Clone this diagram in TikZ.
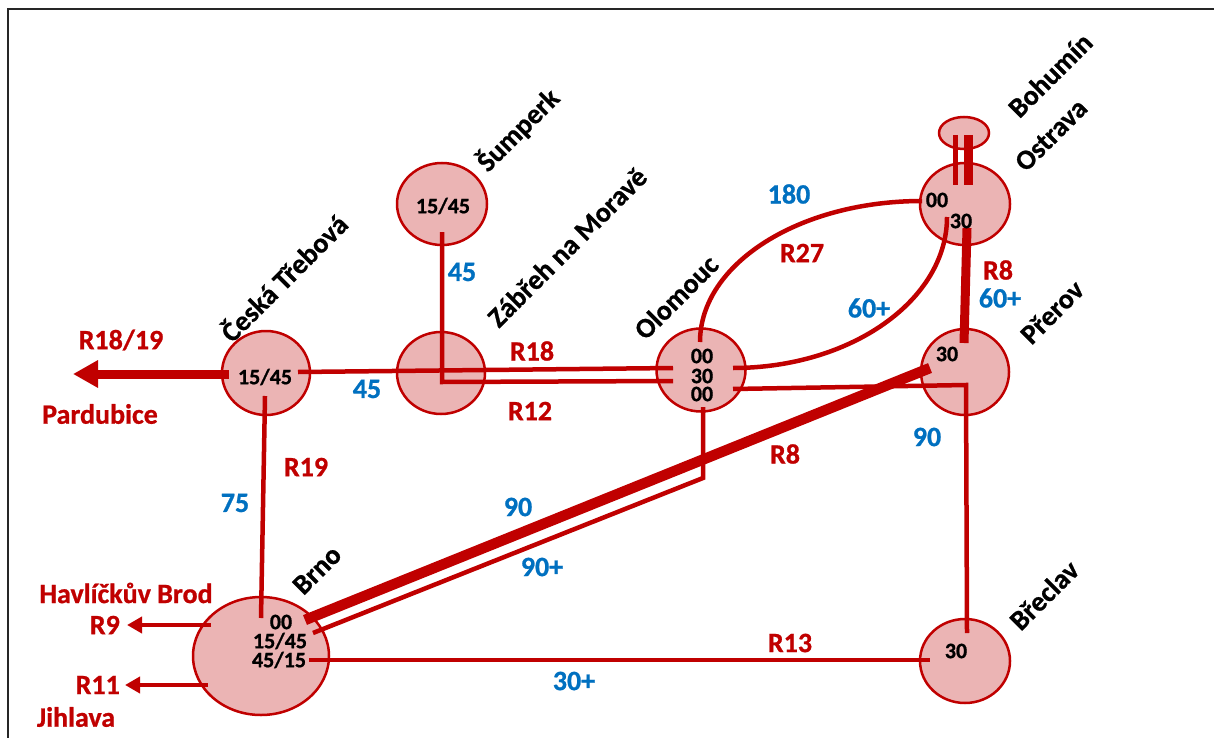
\documentclass[tikz,border=0pt]{standalone}
\usepackage{fontspec}
\setmainfont{Carlito}[BoldFeatures={FakeBold=0.8}]
\usetikzlibrary{shapes.geometric,arrows.meta,calc}
\definecolor{rd}{RGB}{192,0,0}
\definecolor{pk}{RGB}{235,180,180}
\definecolor{bl}{RGB}{0,112,192}
\begin{document}
\begin{tikzpicture}[x=1pt,y=-1pt,
  stn/.style={ellipse,draw=rd,fill=pk,line width=2.5pt,inner sep=0pt},
  tt/.style={font=\fontsize{22}{22}\selectfont\bfseries,text=black,inner sep=0pt},
  city/.style={font=\fontsize{28}{30}\selectfont\bfseries,text=black,rotate=45,inner sep=0pt},
  rl/.style={font=\fontsize{28}{30}\selectfont\bfseries,text=rd,inner sep=0pt},
  bll/.style={font=\fontsize{28}{30}\selectfont\bfseries,text=bl,inner sep=0pt},
  rail/.style={draw=rd,line width=4.5pt},
  railB/.style={draw=rd,line width=9pt},
  railC/.style={draw=rd,line width=10.5pt}]
\useasboundingbox (0,0) rectangle (1214,738);
\fill[white] (0,0) rectangle (1214,738);
\draw[black!85,line width=2.5pt] (8,738) -- (8,9) -- (1214,9);

% stations
\node[stn,minimum width=88pt,minimum height=84pt] (ct) at (266,373) {};
\node[stn,minimum width=90pt,minimum height=82pt] (sum) at (442,204) {};
\node[stn,minimum width=88pt,minimum height=82pt] (zab) at (441,373) {};
\node[stn,minimum width=89pt,minimum height=83pt] (olo) at (701,370) {};
\node[stn,minimum width=88pt,minimum height=86pt] (pre) at (965,372) {};
\node[stn,minimum width=90pt,minimum height=82pt] (ost) at (965,204) {};
\node[stn,minimum width=50pt,minimum height=32pt] (boh) at (964,133) {};
\node[stn,minimum width=136pt,minimum height=118pt] (brn) at (261,656) {};
\node[stn,minimum width=90pt,minimum height=84pt] (bre) at (965,661) {};

% connector ends
\coordinate (ctW) at ($(ct)+(-37,1)$);
\coordinate (pard) at (73,374);
\coordinate (ctE) at ($(ct)+(32,-1)$);
\coordinate (oloW1) at ($(olo)+(-28,-2)$);
\coordinate (sumS) at ($(sum)+(0,28)$);
\coordinate (zabC) at ($(zab)+(1,9)$);
\coordinate (oloW2) at ($(olo)+(-28,11)$);
\coordinate (ctS) at ($(ct)+(-1,23)$);
\coordinate (brnN) at ($(brn)+(0,-38)$);
\coordinate (brnW1) at ($(brn)+(-50,-31)$);
\coordinate (hb) at (127,625);
\coordinate (brnW2) at ($(brn)+(-53,29)$);
\coordinate (jih) at (125,685);
\coordinate (brnE) at ($(brn)+(48,4)$);
\coordinate (breW) at ($(bre)+(-35,-1)$);
\coordinate (brnNE) at ($(brn)+(44,-36)$);
\coordinate (preSW) at ($(pre)+(-35,-4)$);
\coordinate (brnE2) at ($(brn)+(52,-23)$);
\coordinate (oloK) at ($(olo)+(2,108)$);
\coordinate (oloS) at ($(olo)+(2,37)$);
\coordinate (oloE2) at ($(olo)+(32,19)$);
\coordinate (preK) at ($(pre)+(1,13)$);
\coordinate (breN) at ($(bre)+(2,-28)$);
\coordinate (oloN) at ($(olo)+(-1,-28)$);
\coordinate (ostW) at ($(ost)+(-43,-3)$);
\coordinate (oloE1) at ($(olo)+(32,-2)$);
\coordinate (ostSW) at ($(ost)+(-18,13)$);
\coordinate (ostS) at ($(ost)+(2,24)$);
\coordinate (preN) at ($(pre)+(-1,-29)$);
\coordinate (bohL) at ($(boh)+(-9,2)$);
\coordinate (ostL) at ($(ost)+(-10,-19)$);
\coordinate (bohR) at ($(boh)+(4,2)$);
\coordinate (ostR) at ($(ost)+(3,-19)$);

% connectors
\draw[railB,-{Triangle[length=25pt,width=26pt]}] (ctW) -- (pard);
\draw[rail] (ctE) -- (oloW1);
\draw[rail] (sumS) -- (zabC) -- (oloW2);
\draw[rail] (ctS) -- (brnN);
\draw[rail,-{Triangle[length=15pt,width=16pt]}] (brnW1) -- (hb);
\draw[rail,-{Triangle[length=15pt,width=16pt]}] (brnW2) -- (jih);
\draw[rail] (brnE) -- (breW);
\draw[rail] (brnE2) -- (oloK) -- (oloS);
\draw[railC] (brnNE) -- (preSW);
\draw[rail] (oloE2) -- (preK) -- (breN);
\draw[rail] (oloN) .. controls +(0,-78) and +(-123,0) .. (ostW);
\draw[rail] (oloE1) .. controls +(118,0) and +(0,83) .. (ostSW);
\draw[railB] (ostS) -- (preN);
\draw[draw=rd,line width=5pt] (bohL) -- (ostL);
\draw[railB] (bohR) -- (ostR);

% times
\node[tt] at (265,377) {15/45};
\node[tt] at (443,206) {15/45};
\node[tt] at (702,356) {00};
\node[tt] at (702,376) {30};
\node[tt] at (702,394) {00};
\node[tt] at (937,200) {00};
\node[tt] at (961,221) {30};
\node[tt] at (947,354) {30};
\node[tt] at (281,622) {00};
\node[tt] at (280,641) {15/45};
\node[tt] at (279,660) {45/15};
\node[tt] at (956,651) {30};

% city names
\node[city] at (283,277) {Česká Třebová};
\node[city] at (518,130) {Šumperk};
\node[city] at (567,247) {Zábřeh na Moravě};
\node[city] at (676,297) {Olomouc};
\node[city] at (1050,75) {Bohumín};
\node[city] at (1051,135) {Ostrava};
\node[city] at (1052,312) {Přerov};
\node[city] at (317,570) {Brno};
\node[city] at (1044,595) {Břeclav};

% line labels
\node[rl] at (121,340) {R18/19};
\node[rl] at (100,414) {Pardubice};
\node[rl] at (532,351) {R18};
\node[rl] at (530,411) {R12};
\node[rl] at (306,467) {R19};
\node[rl] at (802,253) {R27};
\node[rl] at (998,270) {R8};
\node[rl] at (785,454) {R8};
\node[rl] at (790,643) {R13};
\node[rl] at (126,593) {Havlíčkův Brod};
\node[rl,anchor=east] at (120,625) {R9};
\node[rl,anchor=east] at (120,685) {R11};
\node[rl] at (76,717) {Jihlava};

\node[bll] at (367,389) {45};
\node[bll] at (462,272) {45};
\node[bll] at (235,503) {75};
\node[bll] at (789,194) {180};
\node[bll] at (869,308) {60+};
\node[bll] at (1000,298) {60+};
\node[bll] at (927,437) {90};
\node[bll] at (518,507) {90};
\node[bll] at (542,567) {90+};
\node[bll] at (574,681) {30+};
\end{tikzpicture}
\end{document}
